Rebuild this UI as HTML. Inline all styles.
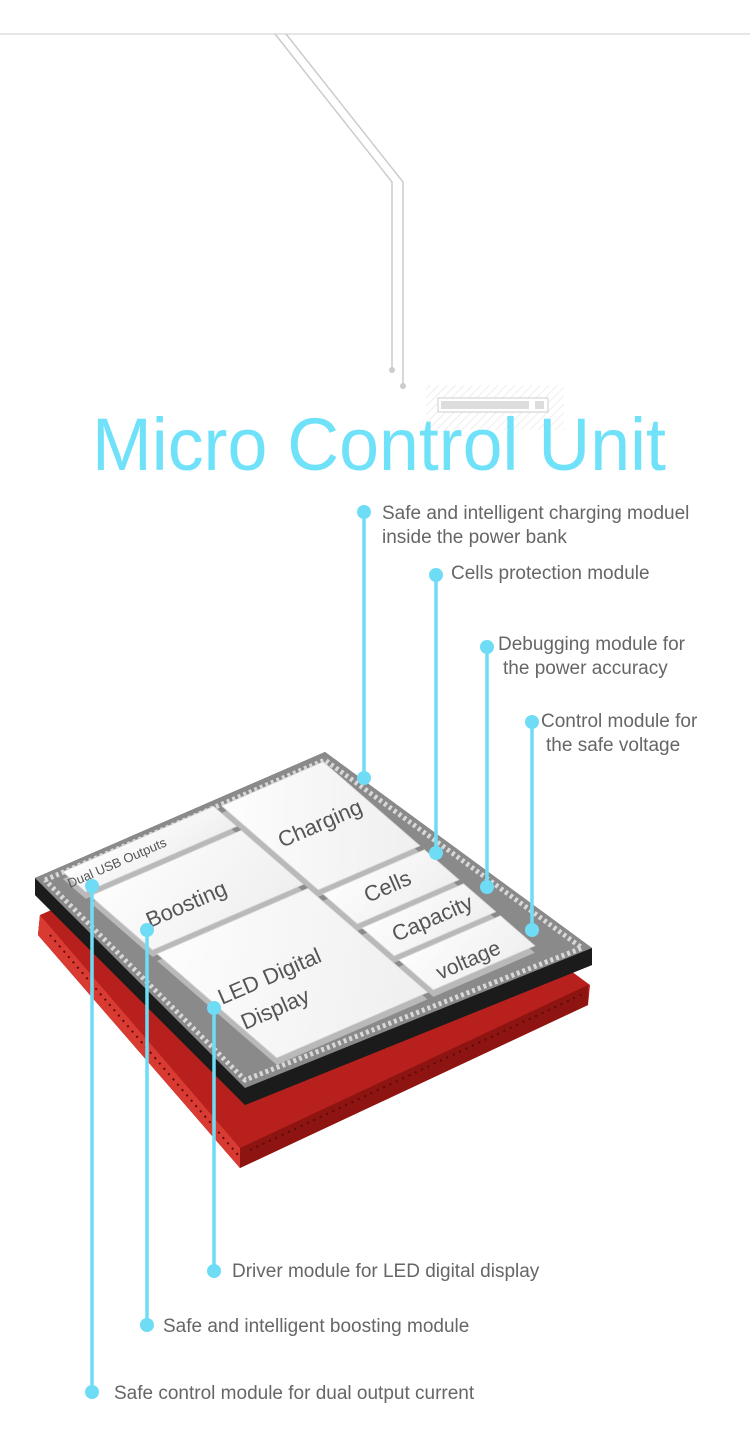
<!DOCTYPE html>
<html><head><meta charset="utf-8"><style>
html,body{margin:0;padding:0;background:#fff;}
svg{display:block;}
.lb{font-family:"Liberation Sans",Arial,sans-serif;font-size:19px;fill:#666;}
.mt{font-family:"Liberation Sans",Arial,sans-serif;fill:#555;}
</style></head><body>
<svg width="750" height="1450" viewBox="0 0 750 1450" xmlns="http://www.w3.org/2000/svg">
<defs>
<pattern id="hatch" width="6" height="6" patternUnits="userSpaceOnUse" patternTransform="rotate(45)">
<rect width="6" height="6" fill="#fff"/><line x1="0" y1="0" x2="0" y2="6" stroke="#eee" stroke-width="2"/></pattern>
<linearGradient id="mod" x1="0" y1="0" x2="1" y2="1"><stop offset="0" stop-color="#fdfdfd"/><stop offset="1" stop-color="#efefef"/></linearGradient>
</defs>
<line x1="0" y1="34" x2="750" y2="34" stroke="#ddd" stroke-width="1.5"/>
<polyline points="275,34 392,182 392,370" fill="none" stroke="#ccc" stroke-width="1.5"/>
<polyline points="286,34 403,182 403,385" fill="none" stroke="#ccc" stroke-width="1.5"/>
<circle cx="392" cy="370" r="3" fill="#ccc"/><circle cx="403" cy="386" r="3" fill="#ccc"/>
<rect x="426" y="385" width="138" height="45" fill="url(#hatch)"/>
<rect x="438" y="398" width="110" height="14" fill="#fff" stroke="#d6d6d6" stroke-width="1.2"/>
<rect x="441" y="401" width="88" height="8" fill="#ddd"/><rect x="535" y="401" width="9" height="8" fill="#ddd"/>
<text x="92" y="470" textLength="574" lengthAdjust="spacingAndGlyphs" font-family="Liberation Sans,Arial,sans-serif" font-size="74" fill="#6fe1f8">Micro Control Unit</text>

<!-- red base -->
<polygon points="40,915 325,790 590,985 588,1005 240,1168 38,935" fill="#b8201e"/>
<polygon points="40,915 240,1148 588,985 588,1005 240,1168 38,935" fill="#8e1412"/>
<polygon points="40,915 240,1148 240,1168 38,935" fill="#d93a32"/>
<g stroke="#5a0c0a" stroke-width="2" stroke-dasharray="2 5">
<line x1="50" y1="935" x2="238" y2="1155"/><line x1="250" y1="1150" x2="585" y2="993"/>
</g>
<!-- black board -->
<polygon points="35,878 325,752 592,948 592,965 245,1105 35,895" fill="#2a2a2a"/>
<polygon points="35,878 245,1088 592,948 592,965 245,1105 35,895" fill="#1b1b1b"/>
<polygon points="35,878 325,752 592,948 245,1088" fill="#8a8a8a"/>
<g fill="none" stroke="#d8d8d8" stroke-width="5" stroke-dasharray="3 3">
<polyline points="45,880 325,760 582,948 245,1080 45,880"/>
</g>
<!-- module sides -->
<g transform="translate(0,7)">
<g transform="matrix(2.9,-1.26,2.3,2.0,35,878)" fill="#b9b9b9">
<rect x="8" y="2" width="52" height="10"/>
<rect x="62" y="3" width="35" height="42"/>
<rect x="8" y="14" width="52" height="27"/>
<rect x="8" y="43" width="52" height="52"/>
<rect x="62" y="47" width="35" height="15"/>
<rect x="62" y="64" width="35" height="14"/>
<rect x="62" y="80" width="35" height="15"/>
</g></g>
<g transform="matrix(2.9,-1.26,2.3,2.0,35,878)">
<g fill="url(#mod)" stroke="#d8d8d8" stroke-width="0.3">
<rect x="8" y="2" width="52" height="10"/>
<rect x="62" y="3" width="35" height="42"/>
<rect x="8" y="14" width="52" height="27"/>
<rect x="8" y="43" width="52" height="52"/>
<rect x="62" y="47" width="35" height="15"/>
<rect x="62" y="64" width="35" height="14"/>
<rect x="62" y="80" width="35" height="15"/>
</g>
</g>
<g class="mt">
<text x="70" y="888" font-size="13" transform="rotate(-23.5 70 888)">Dual USB Outputs</text>
<text x="150" y="928" font-size="22" transform="rotate(-23.5 150 928)">Boosting</text>
<text x="282" y="848" font-size="22" transform="rotate(-23.5 282 848)">Charging</text>
<text x="222" y="1005" font-size="22" transform="rotate(-23.5 222 1005)">LED Digital</text>
<text x="245" y="1030" font-size="22" transform="rotate(-23.5 245 1030)">Display</text>
<text x="368" y="903" font-size="22" transform="rotate(-23.5 368 903)">Cells</text>
<text x="396" y="942" font-size="22" transform="rotate(-23.5 396 942)">Capacity</text>
<text x="440" y="980" font-size="21" transform="rotate(-23.5 440 980)">voltage</text>
</g>
<g stroke="#6fdcf5" stroke-width="3.5" fill="#6fdcf5">
<line x1="364" y1="512" x2="364" y2="778"/><circle cx="364" cy="512" r="7" stroke="none"/><circle cx="364" cy="778" r="7" stroke="none"/>
<line x1="436" y1="575" x2="436" y2="853"/><circle cx="436" cy="575" r="7" stroke="none"/><circle cx="436" cy="853" r="7" stroke="none"/>
<line x1="487" y1="647" x2="487" y2="887"/><circle cx="487" cy="647" r="7" stroke="none"/><circle cx="487" cy="887" r="7" stroke="none"/>
<line x1="532" y1="722" x2="532" y2="930"/><circle cx="532" cy="722" r="7" stroke="none"/><circle cx="532" cy="930" r="7" stroke="none"/>
<line x1="214" y1="1008" x2="214" y2="1271"/><circle cx="214" cy="1008" r="7" stroke="none"/><circle cx="214" cy="1271" r="7" stroke="none"/>
<line x1="147" y1="930" x2="147" y2="1325"/><circle cx="147" cy="930" r="7" stroke="none"/><circle cx="147" cy="1325" r="7" stroke="none"/>
<line x1="92" y1="886" x2="92" y2="1392"/><circle cx="92" cy="886" r="7" stroke="none"/><circle cx="92" cy="1392" r="7" stroke="none"/>
</g>
<g class="lb">
<text x="382" y="519">Safe and intelligent charging moduel</text>
<text x="382" y="543">inside the power bank</text>
<text x="451" y="579">Cells protection module</text>
<text x="498" y="650">Debugging module for</text>
<text x="503" y="674">the power accuracy</text>
<text x="541" y="727">Control module for</text>
<text x="546" y="751">the safe voltage</text>
<text x="232" y="1277">Driver module for LED digital display</text>
<text x="163" y="1332">Safe and intelligent boosting module</text>
<text x="114" y="1399">Safe control module for dual output current</text>
</g>
</svg>
</body></html>
